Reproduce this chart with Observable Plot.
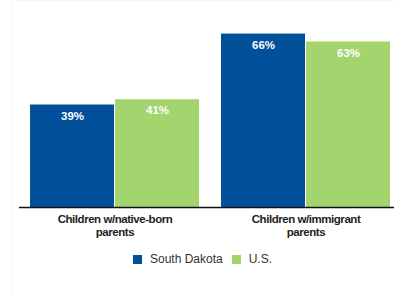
<!DOCTYPE html>
<html>
<head>
<meta charset="utf-8">
<script src="https://cdn.jsdelivr.net/npm/d3@7"></script>
<script src="https://cdn.jsdelivr.net/npm/@observablehq/plot@0.6"></script>
<style>
  html, body { margin: 0; padding: 0; background: #fff; }
  body { width: 394px; height: 295px; overflow: hidden; position: relative; }
  #frame { position: absolute; left: 12px; top: 0; width: 382px; height: 295px; border-left: 1px solid #f4f4f4; border-top: 1px solid #f7f7f7; box-sizing: border-box; }
  #chart { position: absolute; left: 0; top: 0; }
  #legend { position: absolute; left: 0; top: 252px; width: 394px; display: flex; justify-content: center; align-items: center;
    font-family: "Liberation Sans", Arial, sans-serif; font-size: 12px; color: #333; padding-left: 20px; box-sizing: border-box; }
  .sw { display: inline-block; width: 9px; height: 9px; margin-right: 8px; }
  .item { display: inline-flex; align-items: center; margin-right: 9px; }
</style>
</head>
<body>
<div id="frame"></div>
<div id="chart"></div>
<div id="legend"></div>
<script>
const groups = ["Children w/native-born parents", "Children w/immigrant parents"];
const seriesNames = ["South Dakota", "U.S."];
const southDakota = [39, 66];
const us = [41, 63];
const colors = ["#02509a", "#a4d46e"];

const data = [];
groups.forEach((g, i) => {
  data.push({group: g, series: seriesNames[0], value: southDakota[i]});
  data.push({group: g, series: seriesNames[1], value: us[i]});
});

const plot = Plot.plot({
  width: 394,
  height: 245,
  marginLeft: 30,
  marginRight: 3,
  marginTop: 2,
  marginBottom: 38,
  style: {background: "transparent", overflow: "visible"},
  fx: {domain: groups, paddingInner: 0.115, paddingOuter: 0, label: null},
  x: {domain: seriesNames, paddingInner: 0.012, paddingOuter: 0, axis: null},
  y: {domain: [0, 78], axis: null},
  color: {domain: seriesNames, range: colors},
  marks: [
    Plot.barY(data, {fx: "group", x: "series", y: "value", fill: "series"}),
    Plot.text(data, {fx: "group", x: "series", y: "value", text: d => d.value + "%",
      dy: 11, fill: "white", fontWeight: "bold", fontSize: 11.5,
      fontFamily: "Liberation Sans, Arial, sans-serif"}),
    Plot.ruleY([0], {stroke: "#111", strokeWidth: 1.5, insetLeft: -11, insetRight: -11}),
    Plot.axisFx({anchor: "bottom", tickSize: 0, tickPadding: 7, label: null,
      tickFormat: d => d.replace(" parents", "\nparents"),
      fontSize: 11.5, fontWeight: "bold", fill: "#222",
      fontFamily: "Liberation Sans, Arial, sans-serif", lineHeight: 1.1})
  ]
});
plot.querySelectorAll('g[aria-label="fx-axis tick label"] text').forEach(t => {
  t.style.letterSpacing = "-0.45px";
});
document.getElementById("chart").appendChild(plot);

const legend = document.getElementById("legend");
seriesNames.forEach((s, i) => {
  const item = document.createElement("span");
  item.className = "item";
  const sw = document.createElement("span");
  sw.className = "sw";
  sw.style.background = colors[i];
  item.appendChild(sw);
  item.appendChild(document.createTextNode(s));
  legend.appendChild(item);
});
</script>
</body>
</html>
